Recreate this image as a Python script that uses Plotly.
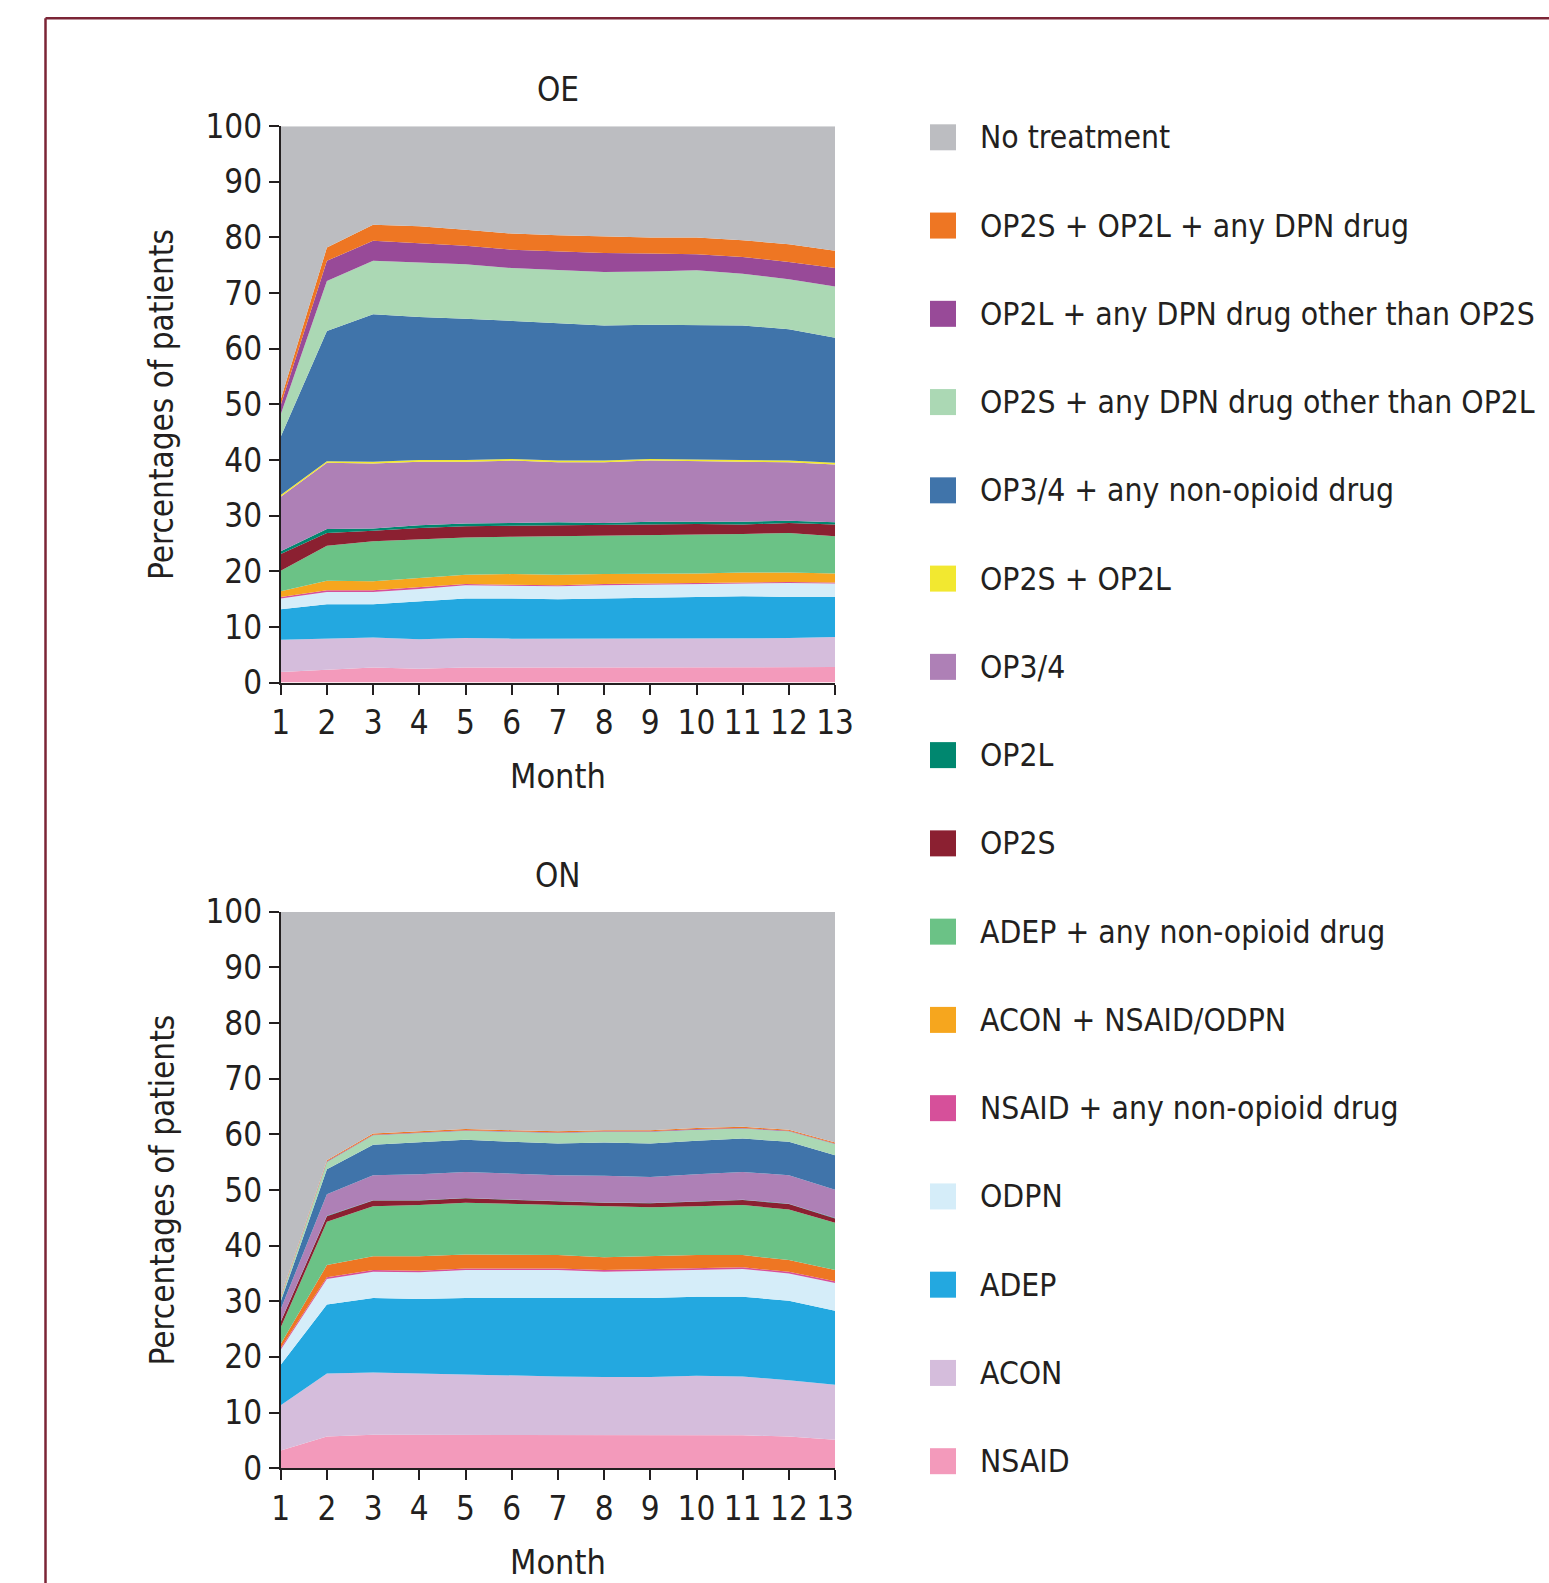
import plotly.graph_objects as go

W, H = 1549, 1583

months = list(range(1, 14))

# Series names (legend order, top of stack first)
series_names = [
    "No treatment",
    "OP2S + OP2L + any DPN drug",
    "OP2L + any DPN drug other than OP2S",
    "OP2S + any DPN drug other than OP2L",
    "OP3/4 + any non-opioid drug",
    "OP2S + OP2L",
    "OP3/4",
    "OP2L",
    "OP2S",
    "ADEP + any non-opioid drug",
    "ACON + NSAID/ODPN",
    "NSAID + any non-opioid drug",
    "ODPN",
    "ADEP",
    "ACON",
    "NSAID",
]

legend_colors = [
    "#BCBDC1", "#EE7623", "#984A98", "#ABD8B4", "#4074AA", "#F2E830",
    "#AE80B6", "#00876F", "#8B2031", "#6BC286", "#F6A61E", "#D6509A",
    "#D5EDF9", "#23A8E0", "#D5BDDC", "#F39ABB",
]

# ---- OE panel: percentage of patients per month ----
oe_no_treatment = [49.1, 21.8, 17.7, 18.0, 18.6, 19.3, 19.6, 19.8, 20.0, 20.0, 20.5, 21.2, 22.4]
oe_op2s_op2l_dpn = [1.0, 2.4, 2.9, 3.0, 2.9, 2.9, 2.9, 3.0, 2.9, 3.0, 3.0, 3.2, 3.1]
oe_op2l_dpn = [1.7, 3.6, 3.6, 3.5, 3.3, 3.3, 3.4, 3.4, 3.2, 2.9, 3.0, 3.1, 3.3]
oe_op2s_dpn = [4.0, 9.0, 9.6, 9.8, 9.8, 9.5, 9.4, 9.6, 9.6, 9.8, 9.3, 9.0, 9.2]
oe_op34_nonopioid = [10.5, 23.4, 26.5, 25.7, 25.4, 24.8, 24.8, 24.3, 24.1, 24.2, 24.1, 23.6, 22.5]
oe_op2s_op2l = [0.3, 0.3, 0.3, 0.3, 0.3, 0.3, 0.3, 0.3, 0.3, 0.3, 0.3, 0.3, 0.3]
oe_op34 = [9.8, 11.9, 11.7, 11.4, 11.1, 11.2, 10.8, 10.9, 11.0, 10.9, 10.9, 10.5, 10.4]
oe_op2l = [0.5, 0.7, 0.4, 0.5, 0.5, 0.5, 0.5, 0.3, 0.5, 0.4, 0.5, 0.4, 0.4]
oe_op2s = [3.0, 2.3, 1.9, 2.0, 2.0, 2.0, 2.0, 2.1, 2.0, 2.0, 1.7, 1.8, 2.1]
oe_adep_nonopioid = [3.7, 6.3, 7.2, 7.0, 6.7, 6.7, 6.9, 6.8, 6.9, 6.9, 6.9, 7.1, 6.7]
oe_acon_nsaid_odpn = [1.0, 1.7, 1.6, 1.7, 1.7, 1.9, 1.9, 1.8, 1.7, 1.7, 1.7, 1.7, 1.6]
oe_nsaid_nonopioid = [0.3, 0.3, 0.3, 0.3, 0.2, 0.2, 0.2, 0.2, 0.2, 0.2, 0.2, 0.2, 0.2]
oe_odpn = [1.9, 2.2, 2.2, 2.2, 2.4, 2.3, 2.3, 2.4, 2.4, 2.4, 2.4, 2.5, 2.4]
oe_adep = [5.5, 6.2, 6.0, 6.8, 7.1, 7.2, 7.1, 7.1, 7.2, 7.3, 7.5, 7.4, 7.2]
oe_acon = [5.8, 5.6, 5.4, 5.3, 5.3, 5.2, 5.2, 5.2, 5.2, 5.2, 5.2, 5.2, 5.4]
oe_nsaid = [1.9, 2.3, 2.7, 2.5, 2.7, 2.7, 2.7, 2.8, 2.8, 2.8, 2.8, 2.8, 2.8]

# ---- ON panel ----
on_no_treatment = [69.1, 44.6, 39.8, 39.4, 39.0, 39.2, 39.4, 39.2, 39.2, 38.8, 38.6, 39.1, 41.4]
on_op2s_op2l_dpn = [0.2, 0.2, 0.2, 0.2, 0.2, 0.2, 0.2, 0.2, 0.2, 0.2, 0.2, 0.2, 0.2]
on_op2l_dpn = [0.1, 0.1, 0.1, 0.1, 0.1, 0.1, 0.1, 0.1, 0.1, 0.1, 0.1, 0.1, 0.1]
on_op2s_dpn = [0.6, 1.3, 1.7, 1.7, 1.6, 1.8, 1.9, 1.9, 2.1, 2.0, 1.8, 1.9, 2.0]
on_op34_nonopioid = [1.4, 4.5, 5.5, 5.7, 5.8, 5.7, 5.7, 6.0, 6.0, 6.0, 6.0, 6.0, 6.2]
on_op2s_op2l = [0.0, 0.0, 0.0, 0.0, 0.0, 0.0, 0.0, 0.0, 0.0, 0.0, 0.0, 0.0, 0.0]
on_op34 = [2.2, 3.9, 4.5, 4.7, 4.7, 4.7, 4.7, 4.8, 4.7, 4.9, 5.0, 5.1, 5.1]
on_op2l = [0.05, 0.05, 0.05, 0.05, 0.05, 0.05, 0.05, 0.05, 0.05, 0.05, 0.05, 0.05, 0.05]
on_op2s = [1.0, 1.0, 1.0, 0.8, 0.8, 0.7, 0.6, 0.6, 0.7, 0.8, 0.9, 1.0, 0.8]
on_adep_nonopioid = [3.0, 7.8, 9.0, 9.2, 9.3, 9.2, 9.0, 9.2, 8.8, 8.8, 9.0, 9.1, 8.5]
on_acon_nsaid_odpn = [0.7, 2.2, 2.5, 2.6, 2.5, 2.4, 2.4, 2.3, 2.3, 2.3, 2.2, 2.1, 2.0]
on_nsaid_nonopioid = [0.3, 0.3, 0.3, 0.3, 0.3, 0.3, 0.3, 0.3, 0.3, 0.3, 0.3, 0.3, 0.3]
on_odpn = [2.7, 4.6, 4.7, 4.8, 5.0, 5.0, 5.0, 4.8, 4.9, 4.9, 5.0, 4.9, 5.0]
on_adep = [7.3, 12.4, 13.4, 13.4, 13.8, 14.0, 14.1, 14.1, 14.2, 14.2, 14.3, 14.3, 13.3]
on_acon = [8.1, 11.3, 11.2, 11.0, 10.8, 10.7, 10.6, 10.5, 10.5, 10.7, 10.6, 10.1, 9.9]
on_nsaid = [3.2, 5.7, 6.0, 6.0, 6.0, 5.9, 5.9, 5.9, 5.9, 5.9, 5.9, 5.7, 5.1]

oe_series = [
    oe_no_treatment, oe_op2s_op2l_dpn, oe_op2l_dpn, oe_op2s_dpn, oe_op34_nonopioid,
    oe_op2s_op2l, oe_op34, oe_op2l, oe_op2s, oe_adep_nonopioid, oe_acon_nsaid_odpn,
    oe_nsaid_nonopioid, oe_odpn, oe_adep, oe_acon, oe_nsaid,
]
on_series = [
    on_no_treatment, on_op2s_op2l_dpn, on_op2l_dpn, on_op2s_dpn, on_op34_nonopioid,
    on_op2s_op2l, on_op34, on_op2l, on_op2s, on_adep_nonopioid, on_acon_nsaid_odpn,
    on_nsaid_nonopioid, on_odpn, on_adep, on_acon, on_nsaid,
]

# the ON panel draws the ACON + NSAID/ODPN band in the deeper orange
on_colors = list(legend_colors)
on_colors[10] = "#EE7623"

FONT = "DejaVu Sans Condensed, Liberation Sans, sans-serif"
INK = "#231F20"

def px_x(p):
    return p / W

def px_y(p):
    return 1 - p / H

fig = go.Figure()

# stacked areas: draw bottom layer first
for panel, data, colors, xa, ya in [
    ("oe", oe_series, legend_colors, "x", "y"),
    ("on", on_series, on_colors, "x2", "y2"),
]:
    for name, vals, col in reversed(list(zip(series_names, data, colors))):
        fig.add_trace(go.Scatter(
            x=months, y=vals, name=name, stackgroup=panel,
            mode="lines", line=dict(width=0, color=col),
            fillcolor=col, xaxis=xa, yaxis=ya, showlegend=False,
        ))

x_dom = [px_x(280.7), px_x(835.1)]
top_dom = [px_y(682.6), px_y(126.2)]
bot_dom = [px_y(1468.2), px_y(911.8)]

TICK_SIZE = 33

xaxis_style = dict(
    range=[1, 13], tickvals=months, tickangle=0, showline=True, linecolor=INK,
    linewidth=2, ticks="outside", ticklen=10, tickwidth=2, tickcolor=INK,
    showgrid=False, zeroline=False, automargin=False,
    tickfont=dict(family=FONT, size=TICK_SIZE, color=INK), fixedrange=True,
)
yaxis_style = dict(
    range=[0, 100], tickvals=list(range(0, 101, 10)), showline=True, linecolor=INK,
    linewidth=2, ticks="outside", ticklen=10, tickwidth=2, tickcolor=INK,
    showgrid=False, zeroline=False, automargin=False,
    tickfont=dict(family=FONT, size=TICK_SIZE, color=INK), fixedrange=True,
)

fig.update_layout(
    width=W, height=H,
    margin=dict(l=0, r=0, t=0, b=0, pad=0, autoexpand=False),
    paper_bgcolor="white", plot_bgcolor="white",
    showlegend=False,
    xaxis=dict(domain=x_dom, anchor="y", **xaxis_style),
    yaxis=dict(domain=top_dom, anchor="x", **yaxis_style),
    xaxis2=dict(domain=x_dom, anchor="y2", **xaxis_style),
    yaxis2=dict(domain=bot_dom, anchor="x2", **yaxis_style),
)

annotations = []
shapes = []

# panel titles and axis titles
for title, ty, xt_y, mid_y in [("OE", 89, 775.5, 404.4), ("ON", 875, 1562, 1190)]:
    annotations.append(dict(
        text=title, x=px_x(557.9), y=px_y(ty), xref="paper", yref="paper",
        showarrow=False, xanchor="center", yanchor="middle",
        font=dict(family=FONT, size=33, color=INK),
    ))
    annotations.append(dict(
        text="Month", x=px_x(557.9), y=px_y(xt_y), xref="paper", yref="paper",
        showarrow=False, xanchor="center", yanchor="middle",
        font=dict(family=FONT, size=34, color=INK),
    ))
    annotations.append(dict(
        text="Percentages of patients", x=px_x(161.6), y=px_y(mid_y),
        xref="paper", yref="paper", showarrow=False, textangle=-90,
        xanchor="center", yanchor="middle",
        font=dict(family=FONT, size=33, color=INK),
    ))

# legend: square swatch plus label for each series
row0, row_step = 137.3, 88.26
for i, (name, col) in enumerate(zip(series_names, legend_colors)):
    cy = row0 + i * row_step
    shapes.append(dict(
        type="rect", xref="paper", yref="paper",
        x0=px_x(930), x1=px_x(956), y0=px_y(cy + 13), y1=px_y(cy - 13),
        fillcolor=col, line=dict(width=0),
    ))
    annotations.append(dict(
        text=name, x=px_x(977.5), y=px_y(cy), xref="paper", yref="paper",
        showarrow=False, xanchor="left", yanchor="middle",
        font=dict(family=FONT, size=31.6, color=INK),
    ))

# outer frame (top and left edges)
frame_col = "#7B2536"
shapes.append(dict(type="line", xref="paper", yref="paper",
                   x0=px_x(45.5), x1=1.0, y0=px_y(18.2), y1=px_y(18.2),
                   line=dict(color=frame_col, width=2.5)))
shapes.append(dict(type="line", xref="paper", yref="paper",
                   x0=px_x(45.5), x1=px_x(45.5), y0=px_y(18.2), y1=0.0,
                   line=dict(color=frame_col, width=2.5)))

fig.update_layout(annotations=annotations, shapes=shapes)

fig.write_html("out.html")
